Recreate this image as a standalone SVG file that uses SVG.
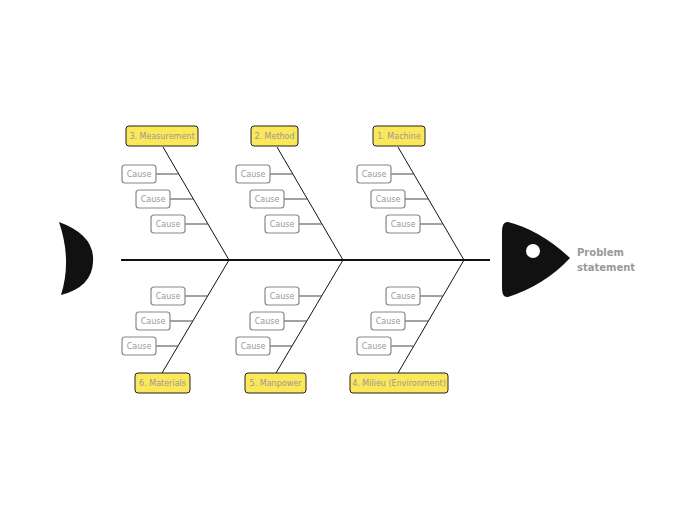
<svg xmlns="http://www.w3.org/2000/svg" width="697" height="520" viewBox="0 0 697 520">
<style>
.lbl{fill:#fbe75a;stroke:#222;stroke-width:1}
.cause{fill:#fff;stroke:#888;stroke-width:1.2}
.t{font-family:"DejaVu Sans",sans-serif;font-size:8px;fill:#999;text-anchor:middle}
.bone{stroke:#111;stroke-width:1;fill:none}
.stub{stroke:#444;stroke-width:1.2}
</style>
<rect width="697" height="520" fill="#fff"/>
<g id="tail"><path d="M59,222 Q95,235 93,262 Q92,287 61,295 Q72,260 59,222 Z" fill="#111"/></g>
<g id="head"><path d="M508,222 Q540,230 570,258 Q545,285 508,297 Q502,298 502,288 L502,232 Q502,221 508,222 Z" fill="#111"/><circle cx="533" cy="251" r="7" fill="#fff"/>
<text x="577" y="256" font-family="DejaVu Sans,sans-serif" font-size="10" font-weight="bold" fill="#999">Problem</text>
<text x="577" y="271" font-family="DejaVu Sans,sans-serif" font-size="10" font-weight="bold" fill="#999">statement</text></g>
<g id="connectors">
<line x1="121" y1="260" x2="490" y2="260" stroke="#111" stroke-width="2"/>
<path class="bone" d="M163,147 L229,260 L162,373 M277,147 L343,260 L276,373 M398,147 L464,260 L398,373"/>
<path class="stub" d="M156,174H179M170,199H193M185,224H208M270,174H293M284,199H307M299,224H322M391,174H414M405,199H428M420,224H443
M185,296H208M170,321H193M156,346H178M299,296H322M284,321H307M270,346H292M420,296H443M405,321H428M391,346H413"/>
</g>
<g id="n3"><rect class="lbl" x="126" y="126" width="72" height="20" rx="3"/><text class="t" x="162" y="139">3. Measurement</text></g>
<g id="n2"><rect class="lbl" x="251" y="126" width="47" height="20" rx="3"/><text class="t" x="274.5" y="139">2. Method</text></g>
<g id="n1"><rect class="lbl" x="373" y="126" width="52" height="20" rx="3"/><text class="t" x="399" y="139">1. Machine</text></g>
<g id="n6"><rect class="lbl" x="135" y="373" width="55" height="20" rx="3"/><text class="t" x="162.5" y="386">6. Materials</text></g>
<g id="n5"><rect class="lbl" x="245" y="373" width="61" height="20" rx="3"/><text class="t" x="275.5" y="386">5. Manpower</text></g>
<g id="n4"><rect class="lbl" x="350" y="373" width="98" height="20" rx="3"/><text class="t" x="399" y="386">4. Milieu (Environment)</text></g>
<g id="causes">
<g><rect class="cause" x="122" y="165" width="34" height="18" rx="3"/><text class="t" x="139" y="177">Cause</text></g>
<g><rect class="cause" x="136" y="190" width="34" height="18" rx="3"/><text class="t" x="153" y="202">Cause</text></g>
<g><rect class="cause" x="151" y="215" width="34" height="18" rx="3"/><text class="t" x="168" y="227">Cause</text></g>
<g><rect class="cause" x="236" y="165" width="34" height="18" rx="3"/><text class="t" x="253" y="177">Cause</text></g>
<g><rect class="cause" x="250" y="190" width="34" height="18" rx="3"/><text class="t" x="267" y="202">Cause</text></g>
<g><rect class="cause" x="265" y="215" width="34" height="18" rx="3"/><text class="t" x="282" y="227">Cause</text></g>
<g><rect class="cause" x="357" y="165" width="34" height="18" rx="3"/><text class="t" x="374" y="177">Cause</text></g>
<g><rect class="cause" x="371" y="190" width="34" height="18" rx="3"/><text class="t" x="388" y="202">Cause</text></g>
<g><rect class="cause" x="386" y="215" width="34" height="18" rx="3"/><text class="t" x="403" y="227">Cause</text></g>
<g><rect class="cause" x="151" y="287" width="34" height="18" rx="3"/><text class="t" x="168" y="299">Cause</text></g>
<g><rect class="cause" x="136" y="312" width="34" height="18" rx="3"/><text class="t" x="153" y="324">Cause</text></g>
<g><rect class="cause" x="122" y="337" width="34" height="18" rx="3"/><text class="t" x="139" y="349">Cause</text></g>
<g><rect class="cause" x="265" y="287" width="34" height="18" rx="3"/><text class="t" x="282" y="299">Cause</text></g>
<g><rect class="cause" x="250" y="312" width="34" height="18" rx="3"/><text class="t" x="267" y="324">Cause</text></g>
<g><rect class="cause" x="236" y="337" width="34" height="18" rx="3"/><text class="t" x="253" y="349">Cause</text></g>
<g><rect class="cause" x="386" y="287" width="34" height="18" rx="3"/><text class="t" x="403" y="299">Cause</text></g>
<g><rect class="cause" x="371" y="312" width="34" height="18" rx="3"/><text class="t" x="388" y="324">Cause</text></g>
<g><rect class="cause" x="357" y="337" width="34" height="18" rx="3"/><text class="t" x="374" y="349">Cause</text></g>
</g>
</svg>
